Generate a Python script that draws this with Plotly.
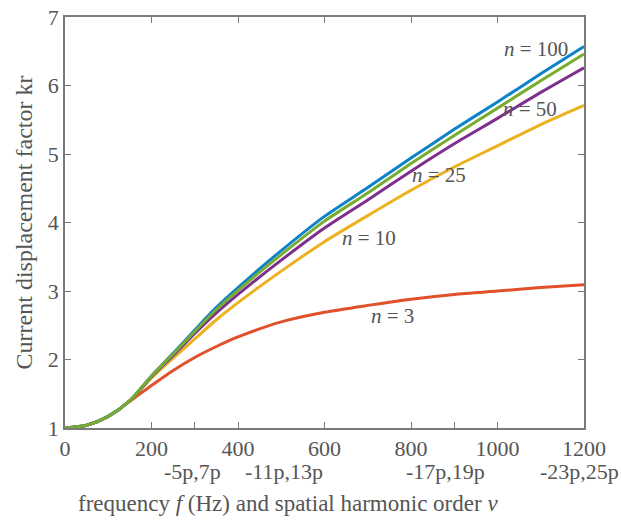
import plotly.graph_objects as go

freq = [0, 50, 100, 150, 200, 250, 300, 350, 400, 500, 600, 700, 800, 900, 1000, 1100, 1200]
kr_n3 = [1.00, 1.04, 1.17, 1.39, 1.62, 1.84, 2.03, 2.19, 2.33, 2.55, 2.69, 2.79, 2.88, 2.95, 3.00, 3.05, 3.09]
kr_n10 = [1.00, 1.04, 1.17, 1.40, 1.73, 2.02, 2.30, 2.58, 2.83, 3.29, 3.72, 4.10, 4.47, 4.81, 5.12, 5.43, 5.71]
kr_n25 = [1.00, 1.04, 1.17, 1.40, 1.75, 2.06, 2.38, 2.68, 2.95, 3.45, 3.92, 4.33, 4.75, 5.15, 5.52, 5.90, 6.26]
kr_n50 = [1.00, 1.04, 1.17, 1.40, 1.76, 2.08, 2.41, 2.73, 3.01, 3.53, 4.02, 4.43, 4.86, 5.27, 5.67, 6.07, 6.46]
kr_n100 = [1.00, 1.04, 1.17, 1.40, 1.76, 2.09, 2.43, 2.76, 3.05, 3.59, 4.09, 4.51, 4.94, 5.36, 5.76, 6.17, 6.57]

series = [
    ("n = 3", kr_n3, "#E0502A"),
    ("n = 10", kr_n10, "#EDB120"),
    ("n = 25", kr_n25, "#7E2F8E"),
    ("n = 100", kr_n100, "#0C82C8"),
    ("n = 50", kr_n50, "#77AC30"),
]

label_text = ["<i>n</i> = 100", "<i>n</i> = 50", "<i>n</i> = 25", "<i>n</i> = 10", "<i>n</i> = 3"]
label_x = [1089, 1075, 865, 704, 757]
label_y = [6.54, 5.65, 4.69, 3.78, 2.63]

x_ticks = [0, 200, 400, 600, 800, 1000, 1200]
x_minor_ticks = [300, 600, 900]
y_ticks = [1, 2, 3, 4, 5, 6, 7]
harm_text = ["-5p,7p", "-11p,13p", "-17p,19p", "-23p,25p"]
harm_x = [295, 507, 879, 1190]

FONT = "Liberation Serif, Times New Roman, serif"
TXT = "#555555"
AX = "#7a7a7a"
FS = 22

fig = go.Figure()
for name, ys, col in series:
    fig.add_trace(go.Scatter(x=freq, y=ys, mode="lines", name=name,
                             line=dict(color=col, width=3, shape="spline", smoothing=0.7),
                             showlegend=False, xaxis="x", yaxis="y"))

# invisible trace to activate bottom extra tick axis
fig.add_trace(go.Scatter(x=[0, 1200], y=[1, 1], mode="lines", line=dict(width=0),
                         hoverinfo="skip", showlegend=False, xaxis="x2", yaxis="y"))

for t, xx, yy in zip(label_text, label_x, label_y):
    fig.add_annotation(x=xx, y=yy, text=t, showarrow=False,
                       font=dict(family=FONT, size=21, color=TXT), xref="x", yref="y")

for t, xx in zip(harm_text, harm_x):
    fig.add_annotation(x=xx, y=0, xref="x", yref="paper", yshift=-43, text=t,
                       showarrow=False, yanchor="middle",
                       font=dict(family=FONT, size=FS, color=TXT))

fig.add_annotation(x=0.43, y=0, xref="paper", yref="paper", yshift=-75,
                   text="frequency <i>f</i> (Hz) and spatial harmonic order <i>v</i>",
                   showarrow=False, yanchor="middle",
                   font=dict(family=FONT, size=23, color=TXT))

fig.update_layout(
    width=621, height=520,
    margin=dict(l=65, r=37, t=17, b=92, autoexpand=False),
    paper_bgcolor="white", plot_bgcolor="white",
    font=dict(family=FONT, size=FS, color=TXT),
    xaxis=dict(range=[0, 1200], tickvals=x_ticks, ticks="inside", ticklen=6,
               tickcolor=AX, showline=True, linecolor=AX, linewidth=1.5,
               mirror="ticks", showgrid=False, zeroline=False, automargin=False,
               ticklabeloverflow="allow",
               tickfont=dict(family=FONT, size=FS, color=TXT)),
    xaxis2=dict(range=[0, 1200], overlaying="x", side="bottom", tickvals=x_minor_ticks,
                ticks="inside", ticklen=6, tickcolor=AX, showticklabels=False,
                showline=False, showgrid=False, zeroline=False, automargin=False),
    yaxis=dict(range=[1, 7], tickvals=y_ticks, ticks="inside", ticklen=6,
               tickcolor=AX, showline=True, linecolor=AX, linewidth=1.5,
               mirror="ticks", showgrid=False, zeroline=False, automargin=False,
               ticklabeloverflow="allow",
               title=dict(text="Current displacement factor kr", standoff=8,
                          font=dict(family=FONT, size=24, color=TXT)),
               tickfont=dict(family=FONT, size=FS, color=TXT)),
)

fig.write_html("out.html", config={"displayModeBar": False},
               post_script="document.body.style.margin='0';document.body.style.overflow='hidden';")
